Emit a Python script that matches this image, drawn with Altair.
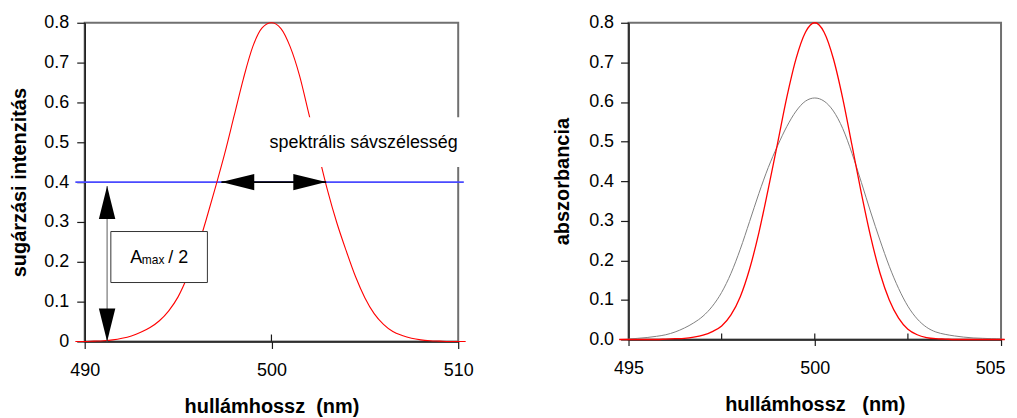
import altair as alt
import pandas as pd

FONT = "Liberation Sans, Arial, sans-serif"

# ---------------- left panel data (radiation intensity) ----------------
left_wavelength = [489.5, 490.0, 490.5, 491.0, 491.5, 492.0, 492.5, 493.0, 493.5, 494.0,
                   494.5, 495.0, 495.5, 496.0, 496.5, 497.0, 497.5, 498.0, 498.5, 499.0,
                   499.5, 500.0, 500.5, 501.0, 501.5, 502.0, 502.5, 503.0, 503.5, 504.0,
                   504.5, 505.0, 505.5, 506.0, 506.5, 507.0, 507.5, 508.0, 508.5, 509.0,
                   509.5, 510.0, 510.4]
left_intensity = [0.0, 0.0, 0.001, 0.002, 0.004, 0.008, 0.014, 0.023, 0.035, 0.052,
                  0.077, 0.112, 0.163, 0.228, 0.305, 0.387, 0.472, 0.566, 0.660, 0.740,
                  0.787, 0.800, 0.786, 0.740, 0.668, 0.572, 0.475, 0.380, 0.298, 0.228,
                  0.163, 0.110, 0.070, 0.043, 0.025, 0.015, 0.008, 0.004, 0.002, 0.001,
                  0.0, 0.0, 0.0]

left_x_ticks = [490, 500, 510]
left_inner_ticks = [500]
left_y_ticks = [0, 0.1, 0.2, 0.3, 0.4, 0.5, 0.6, 0.7, 0.8]

half_level = 0.4
half_line_x = [489.5, 510.3]
band_edges = [497.32, 502.93]          # spectral bandwidth arrow tips
amax_arrow_x = 491.2
amax_arrow_y = [0.0, 0.39]
amax_box_x = [491.4, 496.57]
amax_box_y = [0.148, 0.276]
amax_text_x = [492.44, 493.06, 494.48]
amax_text_y = [0.197, 0.194, 0.197]
amax_text = ["A", "max", "/ 2"]
band_label = "spektrális sávszélesség"
band_label_x = 499.9
band_label_y = 0.485
band_box_x = [499.55, 510.3]
band_box_y = [0.438, 0.563]

# ---------------- right panel data (absorbance) ----------------
right_wavelength = [494.75, 495.0, 495.25, 495.5, 495.75, 496.0, 496.25, 496.5, 496.75, 497.0,
                    497.25, 497.5, 497.75, 498.0, 498.25, 498.5, 498.75, 499.0, 499.25, 499.5,
                    499.75, 500.0, 500.25, 500.5, 500.75, 501.0, 501.25, 501.5, 501.75, 502.0,
                    502.25, 502.5, 502.75, 503.0, 503.25, 503.5, 503.75, 504.0, 504.25, 504.5,
                    504.75, 505.0, 505.1]
right_true = [0.0, 0.0, 0.0, 0.0, 0.0, 0.001, 0.002, 0.003, 0.006, 0.011,
              0.020, 0.034, 0.062, 0.108, 0.178, 0.270, 0.380, 0.495, 0.612, 0.710,
              0.776, 0.800, 0.776, 0.709, 0.609, 0.490, 0.370, 0.260, 0.168, 0.100,
              0.054, 0.026, 0.012, 0.005, 0.002, 0.001, 0.0, 0.0, 0.0, 0.0,
              0.0, 0.0, 0.0]
right_measured = [0.0, 0.001, 0.003, 0.005, 0.008, 0.012, 0.019, 0.029, 0.042, 0.059,
                  0.084, 0.119, 0.167, 0.228, 0.298, 0.369, 0.434, 0.489, 0.538, 0.577,
                  0.602, 0.610, 0.602, 0.577, 0.533, 0.470, 0.397, 0.322, 0.251, 0.185,
                  0.129, 0.084, 0.052, 0.031, 0.019, 0.013, 0.009, 0.006, 0.004, 0.003,
                  0.002, 0.001, 0.0]

right_x_ticks = [495, 500, 505]
right_inner_ticks = [497.5, 500, 502.5]
right_y_ticks = [0, 0.1, 0.2, 0.3, 0.4, 0.5, 0.6, 0.7, 0.8]

AXIS_DARK = "#1a1a1a"

# ---------------- left panel ----------------
xl_scale = alt.Scale(domain=[490, 510], nice=False, zero=False)
yl_scale = alt.Scale(domain=[0, 0.8], nice=False, zero=False)
xl_axis = alt.Axis(values=left_x_ticks, format="d", title="hullámhossz\u00a0\u00a0(nm)",
                   tickSize=7, labelPadding=13, titlePadding=17, labelFlush=False)
yl_axis = alt.Axis(values=left_y_ticks, title="sugárzási intenzitás",
                   labelExpr="datum.value == 0 ? '0' : format(datum.value, '.1f')",
                   tickSize=8, labelPadding=8, titlePadding=14)


def XL(f="x"):
    return alt.X(f"{f}:Q", scale=xl_scale, axis=xl_axis)


def YL(f="y"):
    return alt.Y(f"{f}:Q", scale=yl_scale, axis=yl_axis)


def head(x, y, shape):
    return alt.Chart(pd.DataFrame({"x": [x], "y": [y]})).mark_point(
        shape=shape, filled=True, size=1089, color="black", opacity=1, strokeWidth=0).encode(x=XL(), y=YL())


def txt(x, y, t, size):
    return alt.Chart(pd.DataFrame({"x": [x], "y": [y], "t": [t]})).mark_text(
        align="left", baseline="alphabetic", font=FONT, fontSize=size, color="black").encode(
        x=XL(), y=YL(), text="t:N")


left_df = pd.DataFrame({"x": left_wavelength, "y": left_intensity})

inner_l = alt.Chart(pd.DataFrame({"x": left_inner_ticks, "y": [0] * len(left_inner_ticks)})).mark_tick(
    orient="vertical", size=7, thickness=1.2, yOffset=-3.5, color=AXIS_DARK, opacity=1).encode(x=XL(), y=YL())

blue = alt.Chart(pd.DataFrame({"x": [half_line_x[0]], "x2": [half_line_x[1]], "y": [half_level]})).mark_rule(
    color="#4a4aff", strokeWidth=2).encode(x=XL(), x2="x2:Q", y=YL())

red_left = alt.Chart(left_df).mark_line(color="#ff0000", strokeWidth=1.1, interpolate="monotone").encode(
    x=XL(), y=YL())

vshaft = alt.Chart(pd.DataFrame({"x": [amax_arrow_x], "y": [amax_arrow_y[0]], "y2": [amax_arrow_y[1]]})).mark_rule(
    color="#777777", strokeWidth=1.2).encode(x=XL(), y=YL(), y2="y2:Q")

head_up = head(amax_arrow_x, amax_arrow_y[1], "M0,0 L-0.5,2 L0.5,2 Z")
head_down = head(amax_arrow_x, amax_arrow_y[0], "M0,0 L-0.5,-2 L0.5,-2 Z")

amax_box = alt.Chart(pd.DataFrame({"x": [amax_box_x[0]], "x2": [amax_box_x[1]],
                                   "y": [amax_box_y[0]], "y2": [amax_box_y[1]]})).mark_rect(
    fill="white", stroke="#333333", strokeWidth=1).encode(x=XL(), x2="x2:Q", y=YL(), y2="y2:Q")

t_a = txt(amax_text_x[0], amax_text_y[0], amax_text[0], 18)
t_max = txt(amax_text_x[1], amax_text_y[1], amax_text[1], 12)
t_2 = txt(amax_text_x[2], amax_text_y[2], amax_text[2], 18)

hshaft = alt.Chart(pd.DataFrame({"x": [band_edges[0]], "x2": [band_edges[1]], "y": [half_level]})).mark_rule(
    color="black", strokeWidth=2).encode(x=XL(), x2="x2:Q", y=YL())
head_left = head(band_edges[0], half_level, "M0,0 L2,-0.5 L2,0.5 Z")
head_right = head(band_edges[1], half_level, "M0,0 L-2,-0.5 L-2,0.5 Z")

band_box = alt.Chart(pd.DataFrame({"x": [band_box_x[0]], "x2": [band_box_x[1]],
                                   "y": [band_box_y[0]], "y2": [band_box_y[1]]})).mark_rect(
    fill="white", strokeWidth=0).encode(x=XL(), x2="x2:Q", y=YL(), y2="y2:Q")
band_text = txt(band_label_x, band_label_y, band_label, 18)

left = alt.layer(inner_l, blue, red_left, vshaft, head_up, head_down, amax_box, t_a, t_max, t_2,
                 hshaft, head_left, head_right, band_box, band_text).properties(width=375, height=320)

# ---------------- right panel ----------------
xr_scale = alt.Scale(domain=[495, 505], nice=False, zero=False)
yr_scale = alt.Scale(domain=[0, 0.8], nice=False, zero=False)
xr_axis = alt.Axis(values=right_x_ticks, format="d", title="hullámhossz\u00a0\u00a0\u00a0(nm)",
                   tickSize=6, labelPadding=14, titlePadding=17, labelFlush=False,
                   labelOffset={"condition": {"test": "datum.value == 505", "value": -11}, "value": 0})
yr_axis = alt.Axis(values=right_y_ticks, format=".1f", title="abszorbancia",
                   tickSize=8, labelPadding=7, titlePadding=16)

right_df = pd.DataFrame({
    "x": right_wavelength * 2,
    "y": right_measured + right_true,
    "s": ["measured"] * len(right_wavelength) + ["true"] * len(right_wavelength),
})

XR = alt.X("x:Q", scale=xr_scale, axis=xr_axis)
YR = alt.Y("y:Q", scale=yr_scale, axis=yr_axis)

inner_r = alt.Chart(pd.DataFrame({"x": right_inner_ticks, "y": [0] * len(right_inner_ticks)})).mark_tick(
    orient="vertical", size=6, thickness=1.2, yOffset=-3, color=AXIS_DARK, opacity=1).encode(x=XR, y=YR)

right_lines = alt.Chart(right_df).mark_line(interpolate="monotone").encode(
    x=XR,
    y=YR,
    color=alt.Color("s:N", scale=alt.Scale(domain=["measured", "true"], range=["#808080", "#ff0000"]), legend=None),
    strokeWidth=alt.StrokeWidth("s:N", scale=alt.Scale(domain=["measured", "true"], range=[1.0, 1.3]), legend=None),
    order=alt.Order("s:N"),
)

right = alt.layer(inner_r, right_lines).properties(width=374, height=318)

chart = alt.hconcat(left, right, spacing=76).properties(
    padding={"left": 0, "top": 4, "right": 0, "bottom": 0}
).configure_axis(
    labelFont=FONT, labelFontSize=18, labelColor="black",
    titleFont=FONT, titleFontSize=20, titleFontWeight="bold", titleColor="black",
    grid=False, domainColor=AXIS_DARK, domainWidth=1.5, tickColor=AXIS_DARK, tickWidth=1.2,
).configure_view(stroke="#707070", strokeWidth=2)

chart.save("out.html", embed_options={"renderer": "svg", "actions": False})
